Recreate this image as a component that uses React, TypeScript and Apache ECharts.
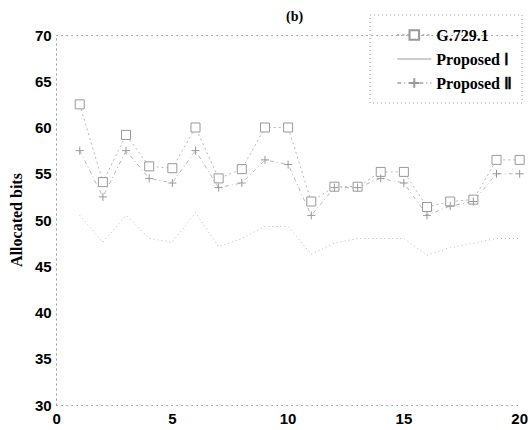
import React, { useEffect, useRef } from "react";
import * as echarts from "echarts";

const xValues = [1, 2, 3, 4, 5, 6, 7, 8, 9, 10, 11, 12, 13, 14, 15, 16, 17, 18, 19, 20];
const g7291 = [62.5, 54.1, 59.2, 55.8, 55.6, 60, 54.5, 55.5, 60, 60, 52, 53.6, 53.6, 55.2, 55.2, 51.4, 52, 52.2, 56.5, 56.5];
const proposed1 = [50.5, 47.6, 50.5, 48, 47.6, 50.8, 47.1, 48, 49.3, 49.3, 46.3, 47.5, 48, 48, 48, 46.2, 47, 47.5, 48, 48];
const proposed2 = [57.5, 52.5, 57.5, 54.5, 54, 57.5, 53.5, 54, 56.5, 56, 50.5, 53.5, 53.5, 54.5, 54, 50.5, 51.5, 52, 55, 55];
const seriesNames = ["G.729.1", "Proposed \u2160", "Proposed \u2161"];

const pair = (ys: number[]) => ys.map((y, i) => [xValues[i], y]);

export default function App() {
  const ref = useRef<HTMLDivElement>(null);
  useEffect(() => {
    if (!ref.current) return;
    const chart = echarts.init(ref.current, undefined, { renderer: "svg" });
    const grey = "#b8b8b8";
    const tickFont = { fontFamily: "Liberation Sans, Arial", fontWeight: "bold" as const, fontSize: 15, color: "#000" };
    const dotted = { color: "#a0a0a0", type: [1, 4] as any, width: 1 };
    const serif = "Liberation Serif, Times New Roman";
    chart.setOption({
      animation: false,
      backgroundColor: "#fff",
      title: {
        text: "(b)",
        left: 281,
        top: 4,
        textStyle: { fontFamily: serif, fontWeight: "bold", fontSize: 14, color: "#000" },
      },
      grid: { left: 52, right: 4, top: 35, bottom: 25, containLabel: false },
      legend: {
        data: [
          { name: seriesNames[0] },
          { name: seriesNames[1], icon: "path://M0,0L40,0L40,1.2L0,1.2Z", itemStyle: { color: "#999" } },
          { name: seriesNames[2] },
        ],
        orient: "vertical",
        right: 14,
        top: 22,
        itemGap: 8,
        itemWidth: 34,
        itemHeight: 12,
        textStyle: { fontFamily: serif, fontWeight: "bold", fontSize: 16, color: "#000" },
      },
      graphic: [
        {
          type: "rect",
          shape: { x: 370, y: 15, width: 152, height: 88 },
          style: { fill: "#fff", stroke: "#a0a0a0", lineWidth: 1, lineDash: [1, 3] },
          z: 0,
          zlevel: 0,
        },
      ],
      xAxis: [
        {
          type: "value",
          min: 0,
          max: 20,
          interval: 5,
          axisLine: { show: true, lineStyle: dotted },
          axisTick: { show: false },
          axisLabel: { ...tickFont, margin: 6 },
          splitLine: { show: false },
        },
        {
          type: "value",
          position: "top",
          min: 0,
          max: 20,
          interval: 5,
          axisLine: { show: true, lineStyle: dotted },
          axisTick: { show: false },
          axisLabel: { show: false },
          splitLine: { show: false },
        },
      ],
      yAxis: [
        {
          type: "value",
          min: 30,
          max: 70,
          interval: 5,
          name: "Allocated bits",
          nameLocation: "middle",
          nameGap: 32,
          nameTextStyle: { fontFamily: serif, fontWeight: "bold", fontSize: 16, color: "#000" },
          axisLine: { show: true, lineStyle: dotted },
          axisTick: { show: false },
          axisLabel: { ...tickFont, margin: 5 },
          splitLine: { show: false },
        },
        {
          type: "value",
          position: "right",
          min: 30,
          max: 70,
          interval: 5,
          axisLine: { show: true, lineStyle: dotted },
          axisTick: { show: false },
          axisLabel: { show: false },
          splitLine: { show: false },
        },
      ],
      series: [
        {
          name: seriesNames[0],
          type: "line",
          data: pair(g7291),
          symbol: "rect",
          symbolSize: 9,
          itemStyle: { color: "#fff", borderColor: "#999", borderWidth: 1 },
          lineStyle: { color: grey, width: 1, type: [2, 3] },
        },
        {
          name: seriesNames[1],
          type: "line",
          data: pair(proposed1),
          symbol: "none",
          itemStyle: { color: grey },
          lineStyle: { color: grey, width: 1, type: [1, 3] },
        },
        {
          name: seriesNames[2],
          type: "line",
          data: pair(proposed2),
          symbol: "path://M0,5L10,5M5,0L5,10",
          symbolSize: 8,
          itemStyle: { color: "none", borderColor: "#999", borderWidth: 1 },
          lineStyle: { color: grey, width: 1, type: [4, 3, 1, 3] },
        },
      ],
    });
    return () => chart.dispose();
  }, []);
  return <div ref={ref} style={{ width: 531, height: 430, position: "absolute", left: 0, top: 0 }} />;
}
